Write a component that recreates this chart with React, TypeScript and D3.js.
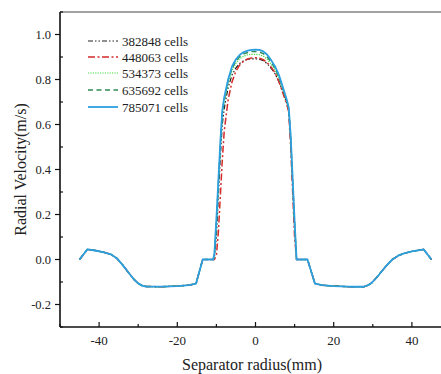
import React from "react";
import * as d3 from "d3";

// ---- data ----
const leftRadius = [-45, -43, -41, -39, -37, -35.5, -34, -32.5, -31, -30, -29, -28, -24, -20, -17, -15.2, -13.5];
const leftVelocity = [0, 0.045, 0.04, 0.033, 0.023, 0.006, -0.024, -0.058, -0.09, -0.106, -0.116, -0.12, -0.121, -0.118, -0.114, -0.107, 0];

const domeRadius = [-10.8, -10.5, -10, -9.5, -9, -8.5, -8, -7, -6, -5, -4, -3, -2, -1, 0, 1, 2, 3, 4, 5, 6, 7, 8, 8.5, 9, 9.5, 10, 10.5];

const rightRadius = [13.3, 15.2, 17, 20, 24, 27.7, 28.8, 29.7, 31, 32.3, 33.6, 35, 36.5, 38, 40, 42, 43, 45];
const rightVelocity = [0, -0.107, -0.114, -0.118, -0.121, -0.121, -0.114, -0.104, -0.08, -0.052, -0.025, 0.0, 0.017, 0.027, 0.036, 0.042, 0.045, 0];

const dome382848 = [0, 0.01, 0.1, 0.28, 0.45, 0.6, 0.67, 0.765, 0.82, 0.852, 0.872, 0.884, 0.89, 0.892, 0.892, 0.89, 0.884, 0.87, 0.85, 0.826, 0.79, 0.745, 0.695, 0.665, 0.53, 0.33, 0.14, 0];
const dome448063 = [0, 0, 0.02, 0.12, 0.28, 0.44, 0.57, 0.71, 0.79, 0.838, 0.865, 0.882, 0.891, 0.896, 0.897, 0.895, 0.888, 0.875, 0.855, 0.83, 0.79, 0.74, 0.69, 0.655, 0.5, 0.3, 0.1, 0];
const dome534373 = [0, 0.02, 0.15, 0.33, 0.5, 0.64, 0.7, 0.785, 0.84, 0.873, 0.893, 0.904, 0.91, 0.912, 0.912, 0.91, 0.904, 0.89, 0.868, 0.842, 0.805, 0.755, 0.702, 0.67, 0.54, 0.35, 0.16, 0];
const dome635692 = [0, 0.025, 0.17, 0.34, 0.51, 0.65, 0.71, 0.795, 0.85, 0.882, 0.902, 0.914, 0.92, 0.924, 0.924, 0.922, 0.915, 0.9, 0.877, 0.85, 0.812, 0.76, 0.706, 0.672, 0.545, 0.355, 0.165, 0];
const dome785071 = [0, 0.03, 0.18, 0.35, 0.52, 0.66, 0.72, 0.8, 0.858, 0.89, 0.91, 0.922, 0.928, 0.932, 0.933, 0.932, 0.925, 0.91, 0.886, 0.858, 0.82, 0.765, 0.71, 0.675, 0.55, 0.36, 0.17, 0];

const seriesNames = ["382848 cells", "448063 cells", "534373 cells", "635692 cells", "785071 cells"];
const seriesDomes = [dome382848, dome448063, dome534373, dome635692, dome785071];

const xTicks = [-40, -20, 0, 20, 40];
const xMinorTicks = [-50, -30, -10, 10, 30, 50];
const yTicks = [-0.2, 0, 0.2, 0.4, 0.6, 0.8, 1.0];
const yMinorTicks = [-0.3, -0.1, 0.1, 0.3, 0.5, 0.7, 0.9, 1.1];

const styles = [
  { color: "#222222", dash: "5,2,1.5,2,1.5,2", width: 1.2 },
  { color: "#d42a2a", dash: "7,2.5,2,2.5", width: 1.5 },
  { color: "#44dd44", dash: "1.2,1.2", width: 1.2 },
  { color: "#2e8b57", dash: "5,3.5", width: 1.4 },
  { color: "#2b9fe0", dash: "", width: 1.8 },
];

const W = 441;
const H = 374;
const M = { left: 60, right: 451, top: 12, bottom: 327 };
const FONT = "'Liberation Serif', Tinos, 'Times New Roman', 'DejaVu Serif', serif";
const txt = { fontFamily: FONT } as React.CSSProperties;

export default function App() {
  const x = d3.scaleLinear().domain([-50, 50]).range([M.left, M.right]);
  const y = d3.scaleLinear().domain([-0.3, 1.1]).range([M.bottom, M.top]);
  const line = d3
    .line<[number, number]>()
    .x((d) => x(d[0]))
    .y((d) => y(d[1]));

  const allRadius = [...leftRadius, ...domeRadius, ...rightRadius];
  const series = seriesDomes.map((dome) => {
    const vals = [...leftVelocity, ...dome, ...rightVelocity];
    return allRadius.map((r, i) => [r, vals[i]] as [number, number]);
  });

  const legendY = [41, 57, 73, 90, 107];

  return (
    <svg
      width={W}
      height={H}
      style={{ position: "absolute", left: 0, top: 0, background: "#fff", fontFamily: FONT }}
    >
      <defs>
        <clipPath id="plot">
          <rect x={M.left} y={M.top} width={M.right - M.left} height={M.bottom - M.top} />
        </clipPath>
      </defs>
      <rect width={W} height={H} fill="#fff" />
      {/* frame top / right */}
      <line x1={M.left} x2={M.right} y1={M.top} y2={M.top} stroke="#444" strokeWidth={1.2} />
      <line x1={M.right} x2={M.right} y1={M.top} y2={M.bottom} stroke="#444" strokeWidth={1.2} />

      {/* series */}
      <g clipPath="url(#plot)">
        {series.map((s, i) => (
          <path
            key={i}
            d={line(s) || ""}
            fill="none"
            stroke={styles[i].color}
            strokeWidth={styles[i].width}
            strokeDasharray={styles[i].dash || undefined}
            strokeLinejoin="round"
          />
        ))}
      </g>

      {/* y axis */}
      <line x1={M.left} x2={M.left} y1={M.top} y2={M.bottom} stroke="#111" strokeWidth={1.6} />
      {yTicks.map((t) => (
        <g key={t}>
          <line x1={M.left - 5} x2={M.left} y1={y(t)} y2={y(t)} stroke="#111" strokeWidth={1.2} />
          <text x={M.left - 9} y={y(t) + 4} fontSize={12.5} textAnchor="end" fill="#222" style={txt}>
            {d3.format(".1f")(t).replace("−", "-")}
          </text>
        </g>
      ))}
      {yMinorTicks.map((t) => (
        <line key={t} x1={M.left} x2={M.left + 3} y1={y(t)} y2={y(t)} stroke="#111" strokeWidth={1.2} />
      ))}

      {/* x axis */}
      <line x1={M.left} x2={M.right} y1={M.bottom} y2={M.bottom} stroke="#111" strokeWidth={1.6} />
      {xTicks.map((t) => (
        <g key={t}>
          <line x1={x(t)} x2={x(t)} y1={M.bottom - 5} y2={M.bottom} stroke="#111" strokeWidth={1.2} />
          <text x={x(t)} y={M.bottom + 18} fontSize={13} textAnchor="middle" fill="#222" style={txt}>
            {String(t)}
          </text>
        </g>
      ))}
      {xMinorTicks.map((t) => (
        <line key={t} x1={x(t)} x2={x(t)} y1={M.bottom - 3} y2={M.bottom} stroke="#111" strokeWidth={1.2} />
      ))}

      {/* axis titles */}
      <text x={252} y={370} fontSize={16} textAnchor="middle" fill="#222" style={txt}>
        Separator radius(mm)
      </text>
      <text
        transform={`translate(26, ${y(0.4)}) rotate(-90)`}
        fontSize={16}
        textAnchor="middle"
        fill="#222"
        style={txt}
      >
        Radial Velocity(m/s)
      </text>

      {/* legend */}
      {seriesNames.map((name, i) => (
        <g key={name}>
          <line
            x1={88}
            x2={118}
            y1={legendY[i]}
            y2={legendY[i]}
            stroke={styles[i].color}
            strokeWidth={styles[i].width}
            strokeDasharray={styles[i].dash || undefined}
          />
          <text x={122} y={legendY[i] + 4.5} fontSize={13} fill="#222" style={txt}>
            {name}
          </text>
        </g>
      ))}
    </svg>
  );
}
